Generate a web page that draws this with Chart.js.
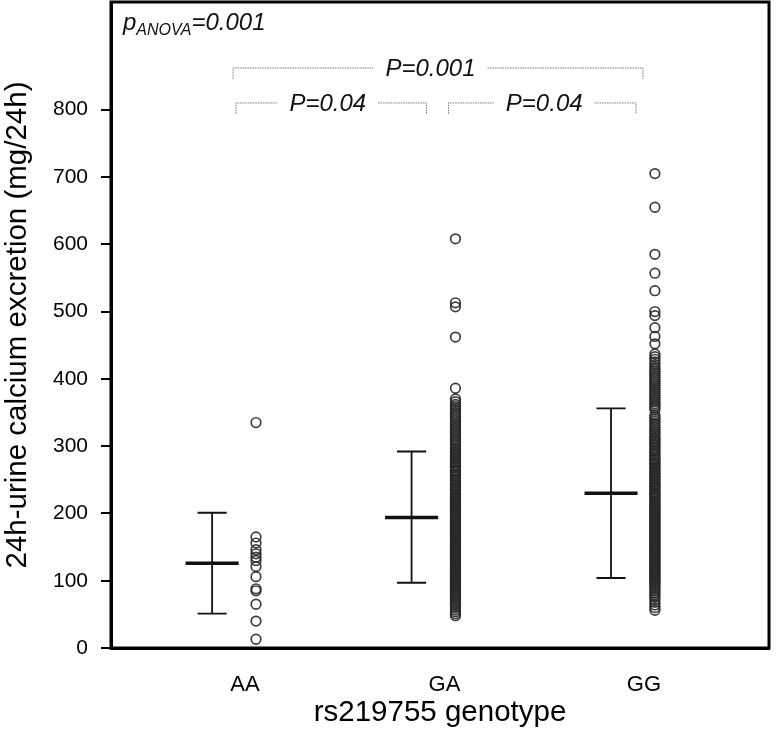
<!DOCTYPE html>
<html>
<head>
<meta charset="utf-8">
<script src="https://cdn.jsdelivr.net/npm/chart.js@4"></script>
<style>
html,body{margin:0;padding:0;background:#fff;}
#wrap{width:776px;height:731px;}
</style>
</head>
<body>
<div id="wrap"><canvas id="c" width="776" height="731"></canvas></div>
<script>
const categories = ["AA", "GA", "GG"];
const yTicks = [0, 100, 200, 300, 400, 500, 600, 700, 800];
const meanValues = [126, 194, 230];
const upperValues = [201, 292, 356];
const lowerValues = [51, 97, 104];
const aaValues = [335, 165, 156, 146, 140, 135, 130, 121, 106, 88, 85, 65, 40, 13];
const gaValues = [608, 513, 507, 462, 386, 370, 366, 362, 359, 356, 353, 350, 347, 344, 341, 338, 335, 332, 329, 326, 323, 320, 317, 314, 311, 308, 305, 302, 300, 297, 295, 292, 290, 287, 285, 282, 280, 277, 275, 272, 270, 268, 265, 263, 261, 258, 256, 254, 251, 249, 247, 245, 242, 240, 238, 236, 234, 231, 229, 227, 225, 223, 221, 219, 217, 215, 213, 211, 209, 207, 205, 203, 201, 199, 197, 195, 193, 191, 189, 187, 185, 183, 181, 179, 177, 175, 173, 171, 169, 167, 165, 163, 161, 159, 157, 155, 153, 151, 149, 147, 145, 143, 141, 139, 137, 135, 133, 131, 129, 127, 125, 123, 121, 119, 117, 115, 113, 111, 109, 107, 105, 103, 101, 99, 97, 95, 93, 91, 89, 87, 85, 83, 81, 79, 77, 75, 72, 69, 66, 63, 60, 57, 54, 51, 48];
const ggValues = [705, 655, 585, 557, 531, 500, 494, 476, 463, 452, 437, 433, 429, 425, 421, 417, 414, 411, 408, 405, 402, 399, 396, 393, 390, 387, 384, 381, 378, 375, 372, 369, 366, 363, 360, 357, 354, 346, 343, 340, 337, 334, 331, 328, 325, 322, 319, 316, 313, 311, 308, 306, 303, 301, 298, 296, 293, 291, 288, 286, 283, 281, 279, 276, 274, 272, 269, 267, 265, 262, 260, 258, 256, 253, 251, 249, 247, 244, 242, 240, 238, 236, 233, 231, 229, 227, 225, 223, 221, 218, 216, 214, 212, 210, 208, 206, 204, 202, 200, 198, 196, 194, 192, 190, 188, 186, 184, 182, 180, 178, 176, 174, 172, 170, 168, 166, 164, 162, 160, 158, 156, 154, 152, 150, 148, 146, 144, 142, 140, 138, 136, 134, 132, 130, 128, 126, 124, 122, 120, 118, 116, 114, 112, 110, 108, 106, 104, 102, 100, 98, 96, 94, 91, 88, 85, 82, 79, 76, 72, 68, 64, 60, 56];
const pAnova = "=0.001";
const pairTexts = ["P=0.001", "P=0.04", "P=0.04"];

const pointOffset = 0.055;
const barOffset = -0.165;

function toPts(vals, idx){ return vals.map(v => ({x: idx + 1 + pointOffset, y: v})); }

const NARROW = '"Liberation Sans Narrow", "Liberation Sans", Arial, sans-serif';
const SANS = '"Liberation Sans", Arial, sans-serif';

const overlay = {
  id: 'overlay',
  afterDatasetsDraw(chart){
    const ctx = chart.ctx, xs = chart.scales.x, ys = chart.scales.y, a = chart.chartArea;
    ctx.save();
    // error bars
    ctx.strokeStyle = '#111';
    for (let i = 0; i < categories.length; i++){
      const cx = xs.getPixelForValue(i + 1 + barOffset);
      const yt = ys.getPixelForValue(upperValues[i]);
      const yb = ys.getPixelForValue(lowerValues[i]);
      const ym = ys.getPixelForValue(meanValues[i]);
      const capW = xs.getPixelForValue(1.073) - xs.getPixelForValue(1);
      const mW = xs.getPixelForValue(1.133) - xs.getPixelForValue(1);
      ctx.lineWidth = 1.8;
      ctx.beginPath();
      ctx.moveTo(cx, yt); ctx.lineTo(cx, yb);
      ctx.moveTo(cx - capW, yt); ctx.lineTo(cx + capW, yt);
      ctx.moveTo(cx - capW, yb); ctx.lineTo(cx + capW, yb);
      ctx.stroke();
      ctx.lineWidth = 3.5;
      ctx.beginPath();
      ctx.moveTo(cx - mW, ym); ctx.lineTo(cx + mW, ym);
      ctx.stroke();
    }
    // brackets
    const brackets = [
      {x0: 0.94, x1: 2.995, y: 862, t: pairTexts[0], tx: 1.93},
      {x0: 0.955, x1: 1.91, y: 810, t: pairTexts[1], tx: 1.415},
      {x0: 2.02, x1: 2.96, y: 810, t: pairTexts[2], tx: 2.5}
    ];
    ctx.font = 'italic 24px ' + NARROW;
    ctx.textBaseline = 'middle';
    ctx.textAlign = 'center';
    for (const b of brackets){
      const px0 = xs.getPixelForValue(b.x0), px1 = xs.getPixelForValue(b.x1);
      const py = ys.getPixelForValue(b.y), pyd = ys.getPixelForValue(b.y - 16);
      const ptx = xs.getPixelForValue(b.tx);
      const tw = ctx.measureText(b.t).width;
      ctx.strokeStyle = '#777';
      ctx.lineWidth = 1;
      ctx.setLineDash([1.5, 1]);
      ctx.beginPath();
      ctx.moveTo(px0, pyd); ctx.lineTo(px0, py); ctx.lineTo(ptx - tw/2 - 12, py);
      ctx.moveTo(ptx + tw/2 + 12, py); ctx.lineTo(px1, py); ctx.lineTo(px1, pyd);
      ctx.stroke();
      ctx.setLineDash([]);
      ctx.fillStyle = '#111';
      ctx.fillText(b.t, ptx, py + 1);
    }
    // p ANOVA
    const ax = xs.getPixelForValue(0.388), ay = ys.getPixelForValue(918);
    ctx.textAlign = 'left';
    ctx.textBaseline = 'alphabetic';
    ctx.font = 'italic 24px ' + NARROW;
    ctx.fillText('p', ax, ay);
    let w = ctx.measureText('p').width;
    ctx.font = 'italic 16px ' + NARROW;
    ctx.fillText('ANOVA', ax + w, ay + 5);
    w += ctx.measureText('ANOVA').width;
    ctx.font = 'italic 24px ' + NARROW;
    ctx.fillText(pAnova, ax + w, ay);
    // frame
    ctx.strokeStyle = '#000';
    ctx.lineWidth = 3;
    ctx.strokeRect(a.left, a.top, a.right - a.left, a.bottom - a.top);
    ctx.restore();
  }
};

const ptStyle = {
  showLine: false,
  pointRadius: 4.8,
  pointBorderWidth: 1.7,
  pointBorderColor: 'rgba(40,40,40,0.9)',
  pointBackgroundColor: 'rgba(0,0,0,0)',
  pointHoverRadius: 4.8
};

new Chart(document.getElementById('c'), {
  type: 'scatter',
  data: {
    datasets: [
      Object.assign({label: categories[0], data: toPts(aaValues, 0)}, ptStyle),
      Object.assign({label: categories[1], data: toPts(gaValues, 1)}, ptStyle),
      Object.assign({label: categories[2], data: toPts(ggValues, 2)}, ptStyle)
    ]
  },
  options: {
    responsive: false,
    animation: false,
    devicePixelRatio: 1,
    layout: {autoPadding: false, padding: {top: 2, right: 7, left: 0, bottom: 0}},
    plugins: {legend: {display: false}, tooltip: {enabled: false}},
    scales: {
      x: {
        type: 'linear',
        min: 0.328, max: 3.627,
        afterBuildTicks: s => { s.ticks = categories.map((c, i) => ({value: i + 1})); },
        afterFit: s => { s.height = 83; s.paddingLeft = 0; s.paddingRight = 0; },
        ticks: {
          callback: (v) => categories[v - 1],
          color: '#000',
          font: {family: SANS, size: 22},
          padding: 24,
          maxRotation: 0
        },
        grid: {display: false, drawTicks: false},
        border: {display: true, color: '#000', width: 3},
        title: {display: true, text: 'rs219755 genotype', color: '#000', font: {family: SANS, size: 29.5}, padding: {top: 0, bottom: 0}}
      },
      y: {
        min: 0, max: 960,
        afterBuildTicks: s => { s.ticks = yTicks.map(v => ({value: v})); },
        afterFit: s => { s.width = 111; s.paddingTop = 0; s.paddingBottom = 0; },
        ticks: {color: '#000', font: {family: SANS, size: 21}, padding: 13},
        grid: {display: true, drawOnChartArea: false, drawTicks: true, tickLength: 10, color: '#000', lineWidth: 2},
        border: {display: true, color: '#000', width: 3},
        title: {display: true, text: '24h-urine calcium excretion (mg/24h)', color: '#000', font: {family: SANS, size: 29.5}, padding: {top: 0, bottom: 0}}
      }
    }
  },
  plugins: [overlay]
});
</script>
</body>
</html>
